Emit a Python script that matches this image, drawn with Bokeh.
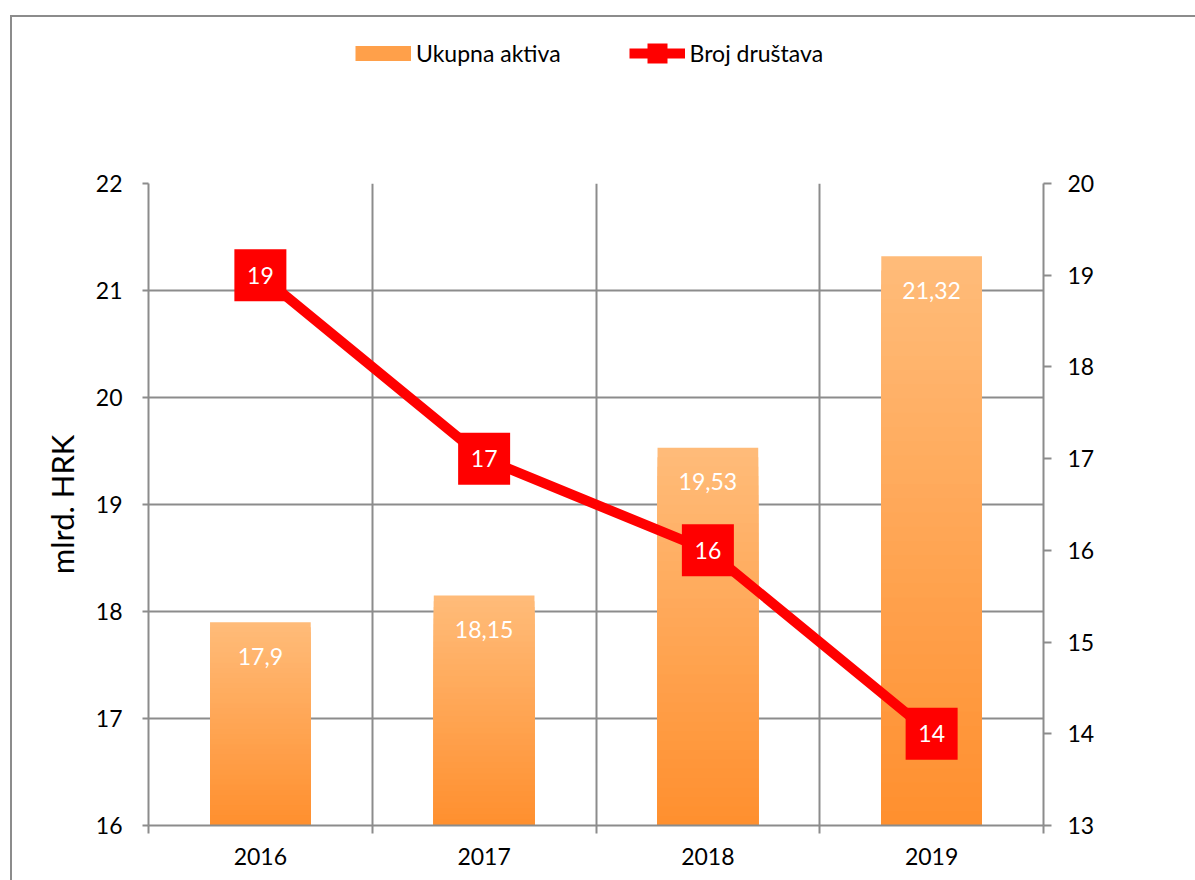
import numpy as np
from bokeh.plotting import figure
from bokeh.layouts import column
from bokeh.models import (ColumnDataSource, Range1d, LinearAxis, FixedTicker,
                          Legend, LegendItem)
from bokeh.core.properties import value
from bokeh.embed import file_html
from bokeh.resources import INLINE

years = ["2016", "2017", "2018", "2019"]
assets = [17.9, 18.15, 19.53, 21.32]
asset_labels = ["17,9", "18,15", "19,53", "21,32"]
companies = [19, 17, 16, 14]
company_labels = ["19", "17", "16", "14"]
left_ticks = [16, 17, 18, 19, 20, 21, 22]
right_ticks = [13, 14, 15, 16, 17, 18, 19, 20]

FONT = "Lato"
GRAY = "#8c8c8c"
RED = "#ff0000"
SWATCH = "#ffa04a"

xc = np.arange(len(years)) + 0.5

# ---------------- main chart ----------------
p = figure(width=1183, height=717, output_backend="svg", toolbar_location=None,
           title=None,
           x_range=Range1d(0, len(years)),
           y_range=Range1d(left_ticks[0], left_ticks[-1]),
           min_border_left=136, min_border_right=152, min_border_top=20,
           min_border_bottom=55, outline_line_color=None,
           background_fill_color="white", border_fill_color="white")
p.extra_y_ranges = {"right": Range1d(right_ticks[0], right_ticks[-1])}

# gradient bars: nested slices from the base up to a fraction of each value
lmin = left_ticks[0]
N = 40
top_c = np.array([255, 188, 122])
bot_c = np.array([255, 143, 46])
bx, btop, bcol = [], [], []
for k in range(N - 1, -1, -1):
    frac = (k + 1) / N
    t = (k + 0.5) / N
    c = bot_c + (top_c - bot_c) * t
    col = "#%02x%02x%02x" % tuple(int(round(v)) for v in c)
    for i, v in enumerate(assets):
        bx.append(xc[i])
        btop.append(lmin + (v - lmin) * frac)
        bcol.append(col)
bsrc = ColumnDataSource(dict(x=bx, top=btop, color=bcol))
p.vbar(x="x", top="top", bottom=lmin, width=0.45, source=bsrc,
       fill_color="color", line_color=None)

src = ColumnDataSource(dict(x=xc, assets=assets, alab=asset_labels,
                            comp=companies, clab=company_labels))
p.text(x="x", y="assets", text="alab", source=src, y_offset=34,
       text_align="center", text_baseline="middle", text_color="white",
       text_font=value(FONT), text_font_size="23px")

p.line(x="x", y="comp", source=src, y_range_name="right",
       line_color=RED, line_width=10)
p.scatter(x="x", y="comp", source=src, y_range_name="right",
          marker="square", size=52, fill_color=RED, line_color=None)
p.text(x="x", y="comp", text="clab", source=src, y_range_name="right",
       text_align="center", text_baseline="middle", text_color="white",
       text_font=value(FONT), text_font_size="23px")

# axes
yl = p.yaxis[0]
yl.ticker = FixedTicker(ticks=left_ticks)
yl.axis_label = "mlrd. HRK"
yl.axis_label_text_font = FONT
yl.axis_label_text_font_size = "31px"
yl.axis_label_text_font_style = "normal"
yl.axis_label_text_color = "black"
yl.axis_label_standoff = 12
yl.major_label_text_font = FONT
yl.major_label_text_font_size = "23px"
yl.major_label_text_color = "black"
yl.major_label_standoff = 20
yl.axis_line_color = GRAY
yl.axis_line_width = 2
yl.major_tick_line_color = GRAY
yl.major_tick_line_width = 2
yl.major_tick_out = 6
yl.major_tick_in = 0
yl.minor_tick_line_color = None

yr = LinearAxis(y_range_name="right", ticker=FixedTicker(ticks=right_ticks))
yr.major_label_text_font = FONT
yr.major_label_text_font_size = "23px"
yr.major_label_text_color = "black"
yr.major_label_standoff = 16
yr.axis_line_color = GRAY
yr.axis_line_width = 2
yr.major_tick_line_color = GRAY
yr.major_tick_line_width = 2
yr.major_tick_out = 8
yr.major_tick_in = 0
yr.minor_tick_line_color = None
p.add_layout(yr, "right")

xa = p.xaxis[0]
xa.ticker = FixedTicker(ticks=list(xc), minor_ticks=list(range(len(years) + 1)))
xa.major_label_overrides = {float(x): y for x, y in zip(xc, years)}
xa.major_label_text_font = FONT
xa.major_label_text_font_size = "23px"
xa.major_label_text_color = "black"
xa.major_label_standoff = 14
xa.major_tick_line_color = None
xa.major_tick_out = 0
xa.minor_tick_line_color = GRAY
xa.minor_tick_line_width = 2
xa.minor_tick_out = 8
xa.minor_tick_in = 0
xa.axis_line_color = GRAY
xa.axis_line_width = 2

p.ygrid.ticker = FixedTicker(ticks=left_ticks)
p.ygrid.grid_line_color = GRAY
p.ygrid.grid_line_width = 2
p.xgrid.ticker = FixedTicker(ticks=list(range(len(years) + 1)))
p.xgrid.grid_line_color = GRAY
p.xgrid.grid_line_width = 2

# ---------------- legend strip above the chart ----------------
pl = figure(width=1183, height=146, output_backend="svg", toolbar_location=None,
            title=None, x_axis_type=None, y_axis_type=None,
            x_range=Range1d(0, 1), y_range=Range1d(0, 1),
            min_border=0, outline_line_color=None,
            background_fill_color="white", border_fill_color="white")
pl.grid.visible = False
nan = [float("nan")]
sw = pl.line(x=nan, y=nan, line_color=SWATCH, line_width=15, line_cap="butt")
ll = pl.line(x=nan, y=nan, line_color=RED, line_width=10)
lm = pl.scatter(x=nan, y=nan, marker="square", fill_color=RED, line_color=None)

legend = Legend(items=[LegendItem(label="Ukupna aktiva", renderers=[sw]),
                       LegendItem(label="Broj društava", renderers=[ll, lm])],
                orientation="horizontal", location=(207, 85),
                border_line_color=None, background_fill_alpha=0,
                padding=0, margin=0, glyph_width=56, glyph_height=50, label_standoff=5,
                spacing=68, label_text_font=FONT, label_text_font_size="23px",
                label_text_color="black")
pl.add_layout(legend, "center")

layout = column(pl, p, spacing=0,
                styles={"border-left": "2px solid #8c8c8c", "border-top": "2px solid #8c8c8c",
                        "margin-left": "10px", "margin-top": "15px"})

open("out.html", "w").write(file_html(layout, INLINE))
